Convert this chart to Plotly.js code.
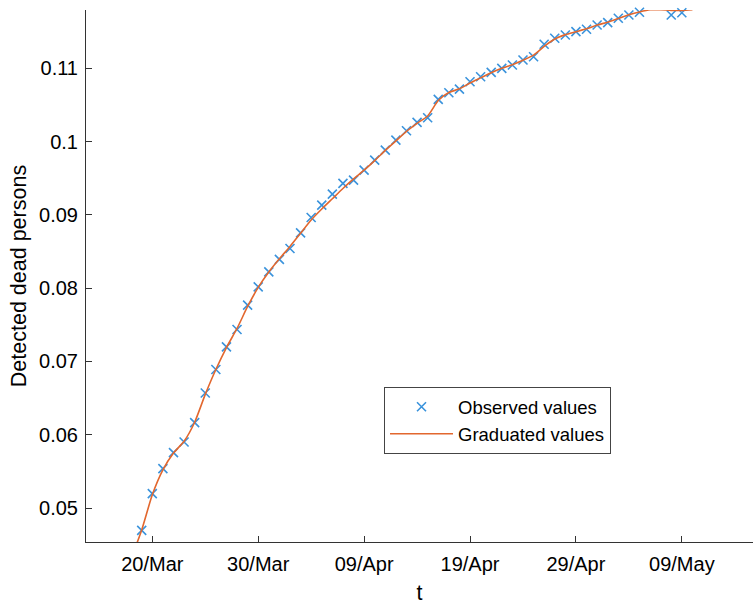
<!DOCTYPE html>
<html>
<head>
<meta charset="utf-8">
<script src="https://cdn.plot.ly/plotly-3.0.1.min.js"></script>
<style>html,body{margin:0;padding:0;background:#fff}#chart{width:753px;height:605px}</style>
</head>
<body>
<div id="chart"></div>
<script>
// Observed values (daily, 19 Mar - 9 May; 7 May missing)
const obsDates = ['2020-03-19','2020-03-20','2020-03-21','2020-03-22','2020-03-23','2020-03-24','2020-03-25','2020-03-26','2020-03-27','2020-03-28','2020-03-29','2020-03-30','2020-03-31',
'2020-04-01','2020-04-02','2020-04-03','2020-04-04','2020-04-05','2020-04-06','2020-04-07','2020-04-08','2020-04-09','2020-04-10','2020-04-11','2020-04-12','2020-04-13','2020-04-14','2020-04-15','2020-04-16','2020-04-17','2020-04-18','2020-04-19','2020-04-20','2020-04-21','2020-04-22','2020-04-23','2020-04-24','2020-04-25','2020-04-26','2020-04-27','2020-04-28','2020-04-29','2020-04-30',
'2020-05-01','2020-05-02','2020-05-03','2020-05-04','2020-05-05','2020-05-06','2020-05-08','2020-05-09'];
const obsValues = [0.04695,0.05196,0.05538,0.05756,0.05901,0.06166,0.0657,0.0689,0.07198,0.07436,0.07768,0.08018,0.08222,
0.08392,0.08542,0.08755,0.08965,0.09133,0.09283,0.0943,0.09475,0.09611,0.09748,0.09884,0.10021,0.10148,0.10263,0.10325,0.10577,0.10667,0.10717,0.10817,0.10885,0.10945,0.1100,0.11045,0.11113,0.11158,0.11328,0.1141,0.11455,0.1150,0.11533,
0.11591,0.11623,0.11683,0.11728,0.11765,0.11806,0.11728,0.11759];

// Graduated values (daily, 18 Mar - 10 May)
const gradDates = ['2020-03-18','2020-03-19','2020-03-20','2020-03-21','2020-03-22','2020-03-23','2020-03-24','2020-03-25','2020-03-26','2020-03-27','2020-03-28','2020-03-29','2020-03-30','2020-03-31',
'2020-04-01','2020-04-02','2020-04-03','2020-04-04','2020-04-05','2020-04-06','2020-04-07','2020-04-08','2020-04-09','2020-04-10','2020-04-11','2020-04-12','2020-04-13','2020-04-14','2020-04-15','2020-04-16','2020-04-17','2020-04-18','2020-04-19','2020-04-20','2020-04-21','2020-04-22','2020-04-23','2020-04-24','2020-04-25','2020-04-26','2020-04-27','2020-04-28','2020-04-29','2020-04-30',
'2020-05-01','2020-05-02','2020-05-03','2020-05-04','2020-05-05','2020-05-06','2020-05-07','2020-05-08','2020-05-09','2020-05-10'];
const gradValues = [0.0431,0.0470,0.0518,0.0552,0.0575,0.0591,0.0617,0.0655,0.0689,0.0719,0.0745,0.0775,0.0801,0.0822,
0.0840,0.0857,0.0875,0.0893,0.0908,0.0922,0.0936,0.0949,0.0961,0.0974,0.0988,0.1001,0.1014,0.1025,0.1035,0.1056,0.1067,0.1072,0.1080,0.1087,0.1094,0.1100,0.1105,0.1111,0.1118,0.1130,0.1140,0.1146,0.1150,0.1154,
0.1159,0.1163,0.1168,0.1173,0.1177,0.1180,0.1180,0.1179,0.1179,0.1180];

const xTickVals = ['2020-03-20','2020-03-30','2020-04-09','2020-04-19','2020-04-29','2020-05-09'];
const xTickText = ['20/Mar','30/Mar','09/Apr','19/Apr','29/Apr','09/May'];
const yTickVals = [0.05,0.06,0.07,0.08,0.09,0.1,0.11];
const yTickText = ['0.05','0.06','0.07','0.08','0.09','0.1','0.11'];

const FONT = 'Liberation Sans, Arial, sans-serif';
const AX = '#333333';

const traces = [
  {x: obsDates, y: obsValues, type: 'scatter', mode: 'markers', name: 'Observed values',
   marker: {symbol: 'x-thin-open', size: 9, color: '#3a93dc', line: {width: 1.6, color: '#3a93dc'}}, cliponaxis: false},
  {x: gradDates, y: gradValues, type: 'scatter', mode: 'lines', name: 'Graduated values',
   line: {color: '#e2672e', width: 1.6, shape: 'spline', smoothing: 0.6}}
];

const layout = {
  width: 753, height: 605,
  margin: {l: 86, r: 0, t: 10, b: 63.3},
  paper_bgcolor: '#fff', plot_bgcolor: '#fff',
  font: {family: FONT, size: 20, color: '#000'},
  showlegend: true,
  legend: {x: 0.4468, y: 0.291, xanchor: 'left', yanchor: 'top',
    bordercolor: '#444', borderwidth: 1, bgcolor: '#fff',
    font: {family: FONT, size: 18.5, color: '#000'}, itemwidth: 63, tracegroupgap: 0},
  xaxis: {type: 'date', range: ['2020-03-13 17:45', '2020-05-15 17:15'],
    tickvals: xTickVals, ticktext: xTickText, ticks: 'inside', ticklen: 6, tickwidth: 1, tickcolor: AX,
    showline: true, linecolor: AX, linewidth: 1, showgrid: false, zeroline: false, mirror: false,
    tickfont: {family: FONT, size: 20, color: '#000'}, ticklabelstandoff: 4,
    title: {text: 't', font: {family: FONT, size: 21.5, color: '#000'}, standoff: 22}},
  yaxis: {range: [0.04536, 0.11796],
    tickvals: yTickVals, ticktext: yTickText, ticks: 'inside', ticklen: 6, tickwidth: 1, tickcolor: AX,
    showline: true, linecolor: AX, linewidth: 1, showgrid: false, zeroline: false, mirror: false,
    tickfont: {family: FONT, size: 20, color: '#000'}, ticklabelstandoff: 3,
    title: {text: 'Detected dead persons', font: {family: FONT, size: 21.5, color: '#000'}, standoff: 6}}
};

Plotly.newPlot('chart', traces, layout, {displayModeBar: false, staticPlot: true});
</script>
</body>
</html>
